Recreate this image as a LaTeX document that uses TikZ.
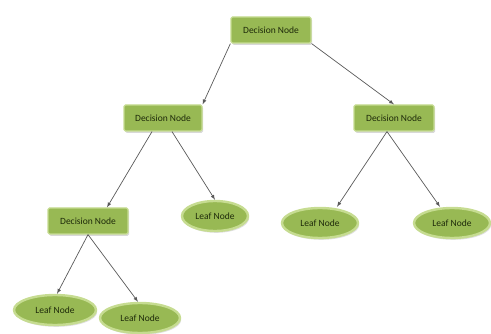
\documentclass[tikz,border=0pt]{standalone}
\usepackage{fontspec}
\setmainfont{Carlito}
\usetikzlibrary{shapes.geometric,shadows}
\definecolor{nodegreen}{RGB}{152,185,84}
\definecolor{rimgreen}{RGB}{198,220,145}
\definecolor{textgreen}{RGB}{30,42,10}
\tikzset{
  >=latex,
  decision/.style={rectangle,rounded corners=1.5pt,fill=nodegreen,
    draw=rimgreen,line width=1.2pt,minimum width=80pt,minimum height=26pt,
    text=textgreen,font=\fontsize{9.5}{10}\selectfont,
    drop shadow={shadow xshift=1.2pt,shadow yshift=-1.8pt,fill=black!30}},
  leaf/.style={ellipse,fill=nodegreen,draw=rimgreen,line width=2.4pt,
    minimum width=76pt,minimum height=30pt,inner sep=0pt,
    text=textgreen,font=\fontsize{9.5}{10}\selectfont,
    drop shadow={shadow xshift=1.2pt,shadow yshift=-1.8pt,fill=black!25}},
  edge/.style={->,draw=black!65,line width=0.7pt}
}
\begin{document}
\begin{tikzpicture}[x=1pt,y=-1pt]
      \useasboundingbox (0,0) rectangle (491,334);
      % decision nodes
      \node[decision] (root) at (271,30) {Decision Node};
      \node[decision,minimum width=78pt] (dleft) at (163,118) {Decision Node};
      \node[decision] (dright) at (394,118) {Decision Node};
      \node[decision] (dll) at (88,221) {Decision Node};
      % leaves
      \node[leaf,minimum width=66pt] (lfa) at (215,216) {Leaf Node};
      \node[leaf] (lfb) at (320,223) {Leaf Node};
      \node[leaf] (lfc) at (452,223) {Leaf Node};
      \node[leaf,minimum width=82pt] (lfd) at (55,310) {Leaf Node};
      \node[leaf,minimum width=80pt] (lfe) at (140,318) {Leaf Node};
      % connectors
      \draw[edge] (root.south west) -- (dleft.north east);
      \draw[edge] (root.south east) -- (dright.north);
      \draw[edge] ([xshift=-11pt]dleft.south) -- ([xshift=19pt]dll.north);
      \draw[edge] ([xshift=9pt]dleft.south) -- (lfa.north);
      \draw[edge] ([xshift=-7pt]dright.south) -- ([xshift=17pt]lfb.north);
      \draw[edge] ([xshift=-7pt]dright.south) -- ([xshift=-12pt]lfc.north);
      \draw[edge] (dll.south) -- ([xshift=2pt]lfd.north);
      \draw[edge] (dll.south) -- ([xshift=-2pt]lfe.north);
    \end{tikzpicture}
\end{document}
